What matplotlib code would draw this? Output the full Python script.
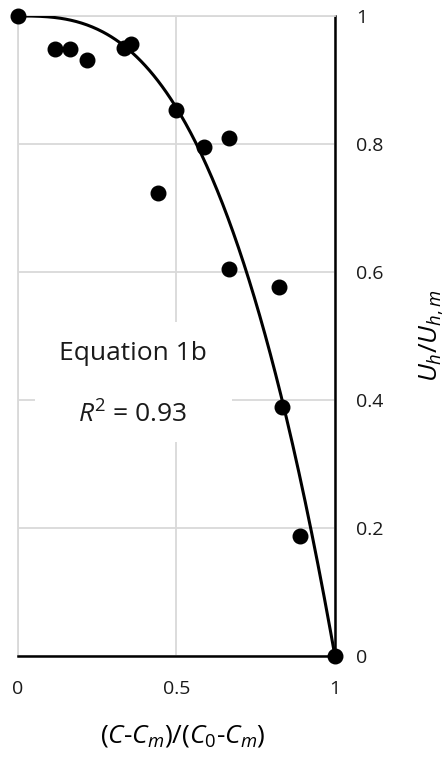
import matplotlib.pyplot as plt
from matplotlib.patches import Rectangle
import numpy as np

plt.rcParams["font.family"] = ["Open Sans", "DejaVu Sans"]
plt.rcParams["mathtext.fontset"] = "custom"
plt.rcParams["mathtext.rm"] = "Open Sans"
plt.rcParams["mathtext.it"] = "Open Sans:italic"

# measured points
conc = [0.0, 0.116, 0.164, 0.219, 0.333, 0.355, 0.442, 0.499, 0.586,
        0.667, 0.667, 0.822, 0.832, 0.889, 1.0]
vel = [1.0, 0.948, 0.948, 0.931, 0.950, 0.956, 0.724, 0.853, 0.795,
       0.809, 0.605, 0.576, 0.389, 0.188, 0.0]

# equation 1b curve
exponent = 2.8
x_fit = np.linspace(0, 1, 300)
y_fit = 1 - x_fit ** exponent

fig = plt.figure(figsize=(4.47, 7.57), dpi=100)
ax = fig.add_axes([0.0403, 0.1334, 0.709, 0.8455])

ax.plot(x_fit, y_fit, color="black", linewidth=2.2, zorder=3)
ax.scatter(conc, vel, s=110, color="black", zorder=4, clip_on=False)

ax.set_xlim(0, 1)
ax.set_ylim(0, 1)
ax.set_xticks([0, 0.5, 1])
ax.set_xticklabels(["0", "0.5", "1"])
ax.set_yticks([0, 0.2, 0.4, 0.6, 0.8, 1])
ax.set_yticklabels(["0", "0.2", "0.4", "0.6", "0.8", "1"])
ax.yaxis.tick_right()
ax.yaxis.set_label_position("right")
ax.tick_params(length=0, labelsize=14, labelcolor="#1a1a1a")
ax.tick_params(axis="x", pad=17)
ax.tick_params(axis="y", pad=15)

ax.grid(color="#d9d9d9", linewidth=1.3)
ax.set_axisbelow(True)
for side in ["left", "top"]:
    ax.spines[side].set_color("#d9d9d9")
    ax.spines[side].set_linewidth(1.3)
for side in ["right", "bottom"]:
    ax.spines[side].set_color("black")
    ax.spines[side].set_linewidth(1.8)

ax.set_xlabel(r"($\it{C}$-$\it{C}_m$)/($\it{C}_0$-$\it{C}_m$)", fontsize=19, labelpad=18)
ax.xaxis.label.set_x(0.52)
ax.set_ylabel(r"$\it{U}_h$/$\it{U}_{h,m}$", fontsize=19, labelpad=25)

# white text box
ax.add_patch(Rectangle((0.054, 0.334), 0.621, 0.188, facecolor="white",
                       edgecolor="none", zorder=2))
ax.text(0.363, 0.473, "Equation 1b", fontsize=19, ha="center", va="center",
        color="#1a1a1a", zorder=2.5)
ax.text(0.363, 0.377, r"$\it{R}^2$ = 0.93", fontsize=19, ha="center", va="center",
        color="#1a1a1a", zorder=2.5)

fig.savefig("out.png", dpi=100)
